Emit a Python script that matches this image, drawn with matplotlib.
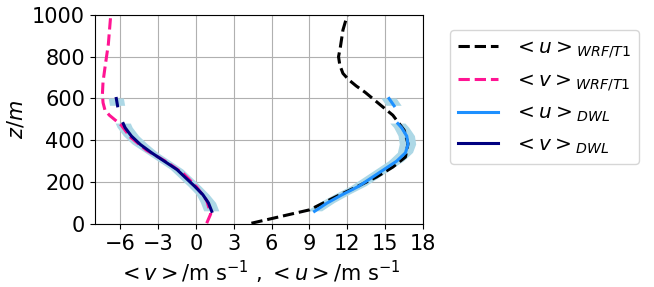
import numpy as np
import matplotlib.pyplot as plt

# WRF/T1 profiles
z_wrf = [3, 67, 136, 176, 224, 272, 320, 384, 448, 520, 560, 600, 630, 660, 690, 720, 760, 800, 848, 928, 1000]
u_wrf = [4.4, 9.0, 11.3, 12.7, 14.3, 15.6, 16.6, 16.8, 16.5, 15.6, 14.8, 14.0, 13.4, 12.7, 12.1, 11.65, 11.4, 11.3, 11.45, 11.65, 12.0]

zv_wrf = [3, 48, 112, 176, 240, 296, 352, 416, 472, 495, 520, 545, 580, 620, 680, 760, 860, 1000]
v_wrf = [0.86, 1.18, 0.86, 0.07, -0.98, -2.3, -3.9, -5.2, -5.9, -6.35, -6.85, -7.2, -7.35, -7.4, -7.35, -7.17, -6.93, -6.74]

# DWL profiles (nan = no data)
z_dwl = [60, 100, 140, 180, 220, 260, 300, 340, 380, 420, 460, 480, 520, 565, 600]
u_dwl = [9.4, 10.4, 11.6, 12.9, 13.9, 14.9, 15.9, 16.6, 16.8, 16.7, 16.3, 16.0, np.nan, 15.7, 15.3]
v_dwl = [1.26, 1.0, 0.55, -0.1, -0.8, -1.5, -2.5, -3.5, -4.4, -5.1, -5.6, -5.75, np.nan, -6.2, -6.3]
u_std = [0.6, 0.6, 0.6, 0.6, 0.6, 0.6, 0.6, 0.6, 0.65, 0.65, 0.6, 0.6, np.nan, 0.6, 0.6]
v_std = [0.6, 0.6, 0.5, 0.5, 0.5, 0.5, 0.5, 0.5, 0.6, 0.6, 0.6, 0.6, np.nan, 0.6, 0.6]

u_dwl = np.array(u_dwl)
v_dwl = np.array(v_dwl)
u_std = np.array(u_std)
v_std = np.array(v_std)

fig = plt.figure(figsize=(6.54, 2.87), dpi=100)
ax = fig.add_axes([0.145, 0.22, 0.502, 0.728])

ax.fill_betweenx(z_dwl, u_dwl - u_std, u_dwl + u_std, color='lightblue', lw=0)
ax.fill_betweenx(z_dwl, v_dwl - v_std, v_dwl + v_std, color='lightblue', lw=0)

ax.plot(u_wrf, z_wrf, '--', color='black', lw=2.2, label=r'$<u>_{WRF/T1}$')
ax.plot(v_wrf, zv_wrf, '--', color='deeppink', lw=2.2, label=r'$<v>_{WRF/T1}$')
ax.plot(u_dwl, z_dwl, '-', color='dodgerblue', lw=2.2, label=r'$<u>_{DWL}$')
ax.plot(v_dwl, z_dwl, '-', color='navy', lw=2.2, label=r'$<v>_{DWL}$')

ax.set_xlim(-8, 18)
ax.set_ylim(0, 1000)
ax.set_xticks([-6, -3, 0, 3, 6, 9, 12, 15, 18])
ax.set_yticks([0, 200, 400, 600, 800, 1000])
ax.tick_params(labelsize=15)
ax.grid(True)
ax.set_axisbelow(True)
ax.set_xlabel(r'$<v>$/m s$^{-1}$ , $<u>$/m s$^{-1}$', fontsize=15)
ax.set_ylabel(r'$z/m$', fontsize=15)

ax.legend(loc='upper left', bbox_to_anchor=(1.05, 0.975), fontsize=14.5,
          labelspacing=0.55)

fig.savefig('out.png', dpi=100)
